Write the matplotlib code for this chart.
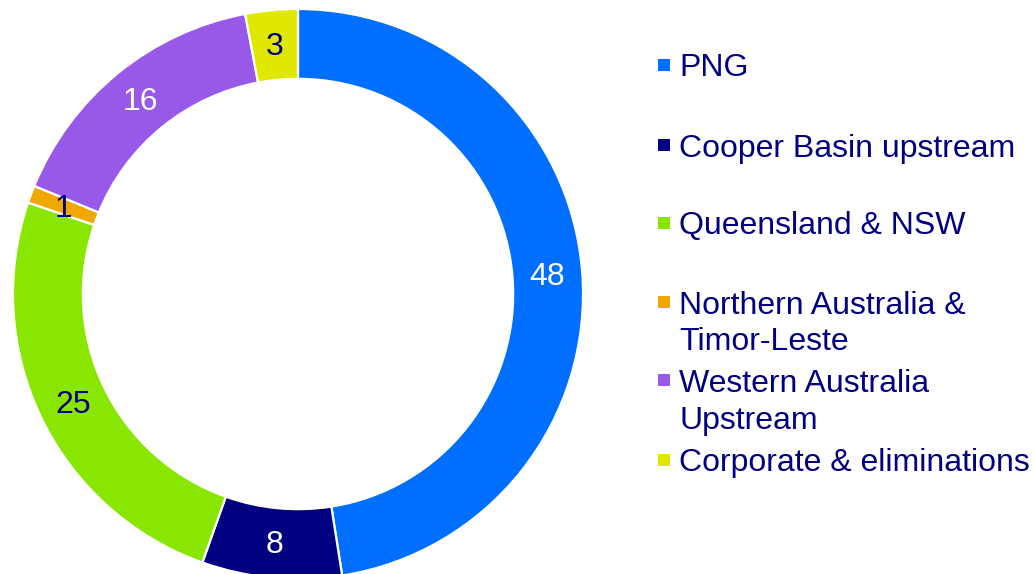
import math
import matplotlib
matplotlib.use("Agg")
import matplotlib.pyplot as plt
from matplotlib.patches import Rectangle

plt.rcParams['font.family'] = ['Liberation Sans', 'DejaVu Sans']

# Segment data
categories = ["PNG", "Cooper Basin upstream", "Queensland & NSW",
              "Northern Australia &\nTimor-Leste", "Western Australia\nUpstream",
              "Corporate & eliminations"]
values = [48, 8, 25, 1, 16, 3]

colors = ["#006EFF", "#000080", "#88E600", "#F0A800", "#9858E8", "#E0E800"]
label_colors = ["white", "white", "#000080", "#000080", "white", "#000080"]
navy = "#000080"

W, H = 1035, 574
fig = plt.figure(figsize=(W / 100, H / 100), dpi=100)

# Donut: centre (298, 294) px, outer radius 285 px
cx, cy, R = 298, 294, 285
ax = fig.add_axes([(cx - R) / W, (H - cy - R) / H, 2 * R / W, 2 * R / H])
wedges, texts = ax.pie(values, colors=colors, startangle=90, counterclock=False,
                       radius=1.0,
                       wedgeprops=dict(width=0.245, edgecolor="white", linewidth=1.6))
ax.set_xlim(-1, 1)
ax.set_ylim(-1, 1)
ax.set_aspect("equal")
ax.axis("off")

for w, v, tc in zip(wedges, values, label_colors):
    mid = math.radians((w.theta1 + w.theta2) / 2)
    r = 0.877
    ax.text(r * math.cos(mid), r * math.sin(mid) + 0.005, str(v), ha="center",
            va="center_baseline", fontsize=23, color=tc)

# Legend drawn in pixel positions
row_y = [65, 145, 223, 302, 380, 460]
line_gap = 37
sq = 12
for name, col, y in zip(categories, colors, row_y):
    fig.patches.append(Rectangle((658 / W, (H - y - sq / 2) / H), sq / W, sq / H,
                                 transform=fig.transFigure, facecolor=col,
                                 edgecolor="none"))
    for i, line in enumerate(name.split("\n")):
        fig.text(679 / W, (H - (y + i * line_gap)) / H, line, ha="left",
                 va="center_baseline", fontsize=23, color=navy)

fig.savefig("out.png", dpi=100)
